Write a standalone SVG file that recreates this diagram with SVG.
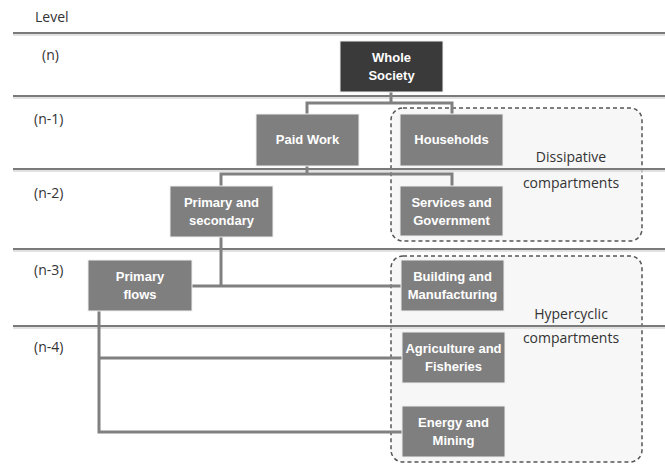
<svg xmlns="http://www.w3.org/2000/svg" width="665" height="464" viewBox="0 0 665 464">
<style>
.lvl{font-family:"Open Sans","Liberation Sans",sans-serif;font-size:14px;fill:#333}
.cmp{font-family:"Open Sans","Liberation Sans",sans-serif;font-size:14px;fill:#333;text-anchor:middle}
.box{fill:#7f7f7f;stroke:#f0f0f0;stroke-width:1}
.dark{fill:#3a3a3a}
.bt{font-family:"Liberation Sans",Arial,sans-serif;font-size:13px;font-weight:bold;fill:#fff;text-anchor:middle}
.conn{fill:none;stroke:#808080;stroke-width:3}
.dash{fill:#f7f7f7;stroke:#555;stroke-width:1.5;stroke-dasharray:4 3}
.hl{stroke:#7a7a7a;stroke-width:2}
.hls{stroke:#d8d8d8;stroke-width:1.5}
</style>
<rect width="665" height="464" fill="#fff"/>
<g id="dissipative">
<rect class="dash" x="391" y="108" width="251" height="133" rx="12"/>
</g>
<g id="hypercyclic">
<rect class="dash" x="391" y="256" width="251" height="206" rx="12"/>
</g>
<g id="levels">
<line class="hls" x1="13" y1="35" x2="665" y2="35"/>
<line class="hl" x1="13" y1="33" x2="665" y2="33"/>
<line class="hls" x1="13" y1="98" x2="665" y2="98"/>
<line class="hl" x1="13" y1="96" x2="665" y2="96"/>
<line class="hls" x1="13" y1="171" x2="665" y2="171"/>
<line class="hl" x1="13" y1="169" x2="665" y2="169"/>
<line class="hls" x1="13" y1="251" x2="665" y2="251"/>
<line class="hl" x1="13" y1="249" x2="665" y2="249"/>
<line class="hls" x1="13" y1="328" x2="665" y2="328"/>
<line class="hl" x1="13" y1="326" x2="665" y2="326"/>
<text class="lvl" x="35" y="22">Level</text>
<text class="lvl" x="42" y="60">(n)</text>
<text class="lvl" x="34" y="124">(n-1)</text>
<text class="lvl" x="34" y="198">(n-2)</text>
<text class="lvl" x="34" y="275">(n-3)</text>
<text class="lvl" x="34" y="352">(n-4)</text>
<text class="cmp" x="571" y="162">Dissipative</text>
<text class="cmp" x="571" y="188">compartments</text>
<text class="cmp" x="571" y="319">Hypercyclic</text>
<text class="cmp" x="571" y="343">compartments</text>
</g>
<g id="connectors">
<polyline class="conn" points="391,92 391,103"/>
<polyline class="conn" points="307,114 307,103 452,103 452,114"/>
<polyline class="conn" points="307,166 307,174"/>
<polyline class="conn" points="221,186 221,174 452,174 452,186"/>
<polyline class="conn" points="221,237 221,286"/>
<polyline class="conn" points="192,286 401,286"/>
<polyline class="conn" points="99,311 99,432 402,432"/>
<polyline class="conn" points="99,358 402,358"/>
</g>
<g id="whole-society">
<rect class="box dark" x="340" y="41" width="103" height="51"/>
<text class="bt" x="391.5" y="62">Whole</text>
<text class="bt" x="391.5" y="80">Society</text>
</g>
<g id="paid-work">
<rect class="box" x="256" y="114" width="103" height="52"/>
<text class="bt" x="307.5" y="144">Paid Work</text>
</g>
<g id="households">
<rect class="box" x="400" y="114" width="103" height="52"/>
<text class="bt" x="451.5" y="144">Households</text>
</g>
<g id="primary-secondary">
<rect class="box" x="170" y="186" width="103" height="51"/>
<text class="bt" x="221.5" y="207">Primary and</text>
<text class="bt" x="221.5" y="225">secondary</text>
</g>
<g id="services-government">
<rect class="box" x="400" y="186" width="103" height="50"/>
<text class="bt" x="451.5" y="207">Services and</text>
<text class="bt" x="451.5" y="225">Government</text>
</g>
<g id="primary-flows">
<rect class="box" x="88" y="260" width="104" height="51"/>
<text class="bt" x="140" y="281">Primary</text>
<text class="bt" x="140" y="299">flows</text>
</g>
<g id="building-manufacturing">
<rect class="box" x="401" y="260" width="103" height="51"/>
<text class="bt" x="452.5" y="281">Building and</text>
<text class="bt" x="452.5" y="299">Manufacturing</text>
</g>
<g id="agriculture-fisheries">
<rect class="box" x="402" y="332" width="103" height="51"/>
<text class="bt" x="453.5" y="353">Agriculture and</text>
<text class="bt" x="453.5" y="371">Fisheries</text>
</g>
<g id="energy-mining">
<rect class="box" x="402" y="406" width="103" height="51"/>
<text class="bt" x="453.5" y="427">Energy and</text>
<text class="bt" x="453.5" y="445">Mining</text>
</g>
</svg>
